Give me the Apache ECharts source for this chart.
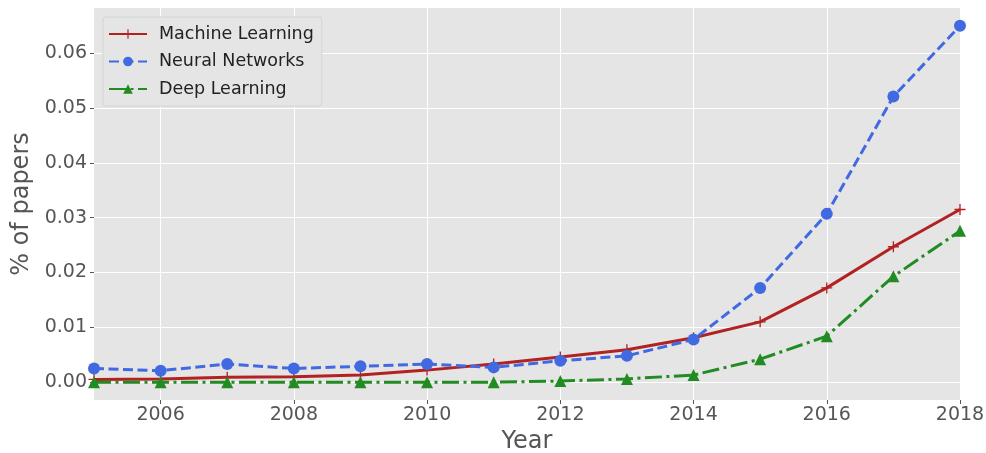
<!DOCTYPE html>
<html>
<head>
<meta charset="utf-8">
<script src="https://cdn.jsdelivr.net/npm/echarts@6/dist/echarts.min.js"></script>
<style>html,body{margin:0;padding:0;background:#fff}#c{width:986px;height:453px}</style>
</head>
<body>
<div id="c"></div>
<script>
var years = [2005,2006,2007,2008,2009,2010,2011,2012,2013,2014,2015,2016,2017,2018];
var machineLearning = [0.0005,0.0006,0.0009,0.0010,0.0013,0.0022,0.0033,0.0046,0.0059,0.0081,0.0110,0.0172,0.0247,0.0315];
var neuralNetworks = [0.0025,0.0021,0.0033,0.0025,0.0029,0.0033,0.0027,0.0039,0.0048,0.0078,0.0172,0.0307,0.0521,0.0650];
var deepLearning = [0.0000,0.0000,0.0000,0.0000,0.0000,0.0000,0.0000,0.0002,0.0006,0.0013,0.0042,0.0084,0.0193,0.0276];
var xTicks = [2006,2008,2010,2012,2014,2016,2018];
var yTicks = [0.00,0.01,0.02,0.03,0.04,0.05,0.06];

function pairs(v){ return years.map(function(y,i){ return [y, v[i]]; }); }

var font = 'DejaVu Sans';
var plusPath = 'path://M-0.6,-5L0.6,-5L0.6,-0.6L5,-0.6L5,0.6L0.6,0.6L0.6,5L-0.6,5L-0.6,0.6L-5,0.6L-5,-0.6L-0.6,-0.6Z';

var chart = echarts.init(document.getElementById('c'), null, {renderer:'canvas'});
chart.setOption({
  animation: false,
  backgroundColor: '#ffffff',
  textStyle: {fontFamily: font},
  grid: {left: 94, right: 26, top: 8, bottom: 53, show: true, backgroundColor: '#E5E5E5', borderWidth: 0, containLabel: false, outerBoundsMode: 'none'},
  legend: {
    orient: 'vertical', left: 103, top: 17,
    padding: [8, 8, 8, 5],
    itemWidth: 38, itemHeight: 12, itemGap: 9.5,
    backgroundColor: '#E5E5E5', borderColor: '#d4d4d4', borderWidth: 1, borderRadius: 3,
    textStyle: {fontFamily: font, fontSize: 17.5, color: '#222222', padding: [0,0,0,7]},
    data: ['Machine Learning','Neural Networks','Deep Learning']
  },
  xAxis: {
    type: 'value', min: 2005, max: 2018,
    name: 'Year', nameLocation: 'middle', nameGap: 29,
    nameTextStyle: {fontFamily: font, fontSize: 24, color: '#555555'},
    axisLine: {show: false, onZero: false},
    axisTick: {show: true, customValues: xTicks, length: 4, lineStyle: {color: '#555555', width: 1}},
    axisLabel: {customValues: xTicks, margin: 6, fontFamily: font, fontSize: 19, color: '#555555', formatter: function(v){return String(v);}},
    splitLine: {show: true, lineStyle: {color: '#ffffff', width: 1}}
  },
  yAxis: {
    type: 'value', min: -0.00325, max: 0.06825,
    name: '% of papers', nameLocation: 'middle', nameGap: 60, nameRotate: 90,
    nameTextStyle: {fontFamily: font, fontSize: 24, color: '#555555'},
    axisLine: {show: false, onZero: false},
    axisTick: {show: true, customValues: yTicks, length: 4, lineStyle: {color: '#555555', width: 1}},
    axisLabel: {customValues: yTicks, margin: 7, fontFamily: font, fontSize: 19, color: '#555555', formatter: function(v){return v.toFixed(2);}},
    splitLine: {show: true, lineStyle: {color: '#ffffff', width: 1}}
  },
  series: [
    {
      name: 'Machine Learning', type: 'line', data: pairs(machineLearning),
      symbol: plusPath, symbolSize: 11, showSymbol: true,
      lineStyle: {color: '#B22222', width: 3, type: 'solid'},
      itemStyle: {color: '#B22222'}
    },
    {
      name: 'Neural Networks', type: 'line', data: pairs(neuralNetworks),
      symbol: 'circle', symbolSize: 12, showSymbol: true,
      lineStyle: {color: '#4169E1', width: 3, type: [10, 4.5]},
      itemStyle: {color: '#4169E1'}
    },
    {
      name: 'Deep Learning', type: 'line', data: pairs(deepLearning),
      symbol: 'triangle', symbolSize: 12, showSymbol: true,
      lineStyle: {color: '#228B22', width: 3, type: [17, 4.5, 3, 4.5]},
      itemStyle: {color: '#228B22'}
    }
  ]
});
</script>
</body>
</html>
